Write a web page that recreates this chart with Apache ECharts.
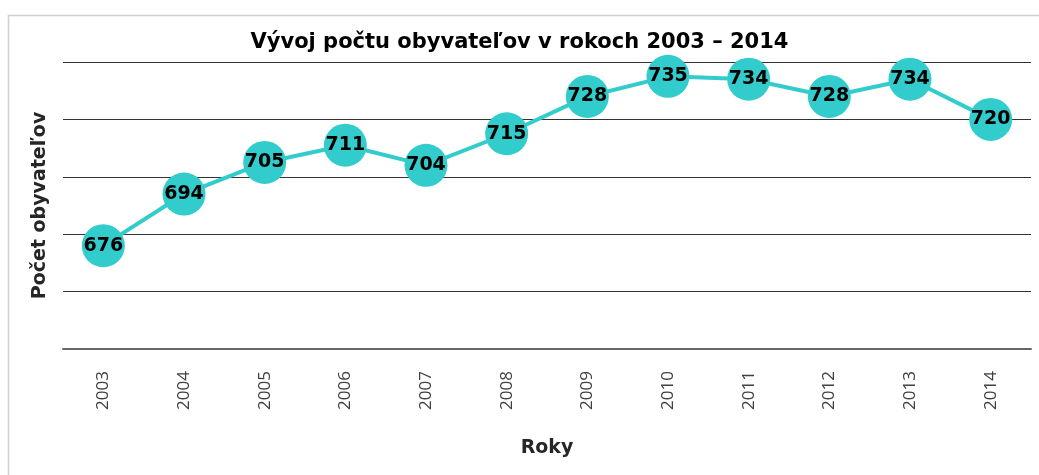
<!DOCTYPE html>
<html>
<head>
<meta charset="utf-8">
<script src="https://cdn.jsdelivr.net/npm/echarts@6/dist/echarts.min.js"></script>
<style>
  html, body { margin: 0; padding: 0; background: #fff; }
  #chart { width: 1039px; height: 475px; }
</style>
</head>
<body>
<div id="chart"></div>
<script>
const years = ['2003', '2004', '2005', '2006', '2007', '2008', '2009', '2010', '2011', '2012', '2013', '2014']
const population = [676, 694, 705, 711, 704, 715, 728, 735, 734, 728, 734, 720]

const TEAL = '#33cccc'
const FONT = '"DejaVu Sans", sans-serif'

const c = echarts.init(document.getElementById('chart'))
c.setOption({
  animation: false,
  graphic: [
    {
      type: 'rect',
      silent: true,
      shape: { x: 8.5, y: 15.5, width: 1100, height: 520 },
      style: { fill: 'none', stroke: '#d0d0d0', lineWidth: 1.5 },
    },
  ],
  title: {
    text: 'Vývoj počtu obyvateľov v rokoch 2003 – 2014',
    left: 'center',
    top: 32,
    padding: 0,
    textStyle: { fontFamily: FONT, fontSize: 21, fontWeight: 'bold', color: '#000' },
  },
  grid: { left: 63, right: 8, top: 62, bottom: 126 },
  xAxis: {
    type: 'category',
    data: years,
    name: 'Roky',
    nameLocation: 'middle',
    nameGap: 90,
    nameTextStyle: { fontFamily: FONT, fontSize: 19, fontWeight: 'bold', color: '#262626' },
    axisLine: { lineStyle: { color: '#666', width: 2 } },
    axisTick: { show: false },
    axisLabel: {
      rotate: 90,
      margin: 22,
      fontFamily: '"Open Sans", sans-serif',
      fontSize: 17,
      color: '#404040',
    },
  },
  yAxis: {
    type: 'value',
    min: 640,
    max: 740,
    interval: 20,
    name: 'Počet obyvateľov',
    nameLocation: 'middle',
    nameGap: 13,
    nameTextStyle: { fontFamily: FONT, fontSize: 19, fontWeight: 'bold', color: '#262626' },
    axisLine: { show: false },
    axisTick: { show: false },
    axisLabel: { show: false },
    splitLine: { lineStyle: { color: '#333', width: 1 } },
  },
  series: [
    {
      type: 'line',
      data: population,
      symbol: 'circle',
      symbolSize: 43,
      lineStyle: { color: TEAL, width: 4 },
      itemStyle: { color: TEAL },
      emphasis: { disabled: true },
      label: {
        show: true,
        position: 'inside',
        fontFamily: FONT,
        fontSize: 19,
        fontWeight: 'bold',
        color: '#000',
      },
    },
  ],
})
</script>
</body>
</html>
